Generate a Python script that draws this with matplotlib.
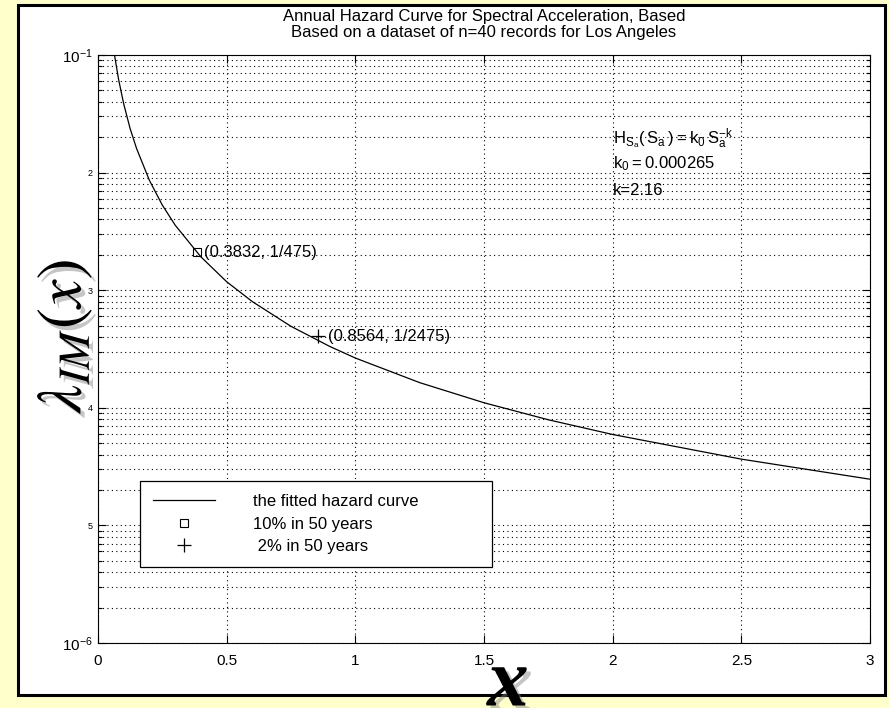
import numpy as np
import matplotlib.pyplot as plt
import matplotlib.patheffects as pe
from matplotlib.patches import Rectangle
from matplotlib.ticker import FixedLocator, FixedFormatter, LogLocator, NullFormatter

plt.rcParams['font.family'] = ['Liberation Sans', 'DejaVu Sans']

# points
sa = [0.064, 0.08, 0.1, 0.125, 0.15, 0.2, 0.25, 0.3, 0.4, 0.5, 0.6, 0.75,
      0.9, 1.0, 1.25, 1.5, 1.75, 2.0, 2.5, 3.0]
hazard = [0.1004, 0.0620, 0.0383, 0.0236, 0.0160, 0.00857, 0.00529, 0.00357,
          0.00192, 0.00118, 0.000799, 0.000493, 0.000333, 0.000265,
          0.0001637, 0.0001104, 7.91e-5, 5.93e-5, 3.66e-5, 2.47e-5]

pt10_x, pt10_y = 0.3832, 1 / 475
pt2_x, pt2_y = 0.8564, 1 / 2475

x_ticks = [0, 0.5, 1, 1.5, 2, 2.5, 3]
x_labels = ['0', '0.5', '1', '1.5', '2', '2.5', '3']
y_ticks = [1e-6, 1e-5, 1e-4, 1e-3, 1e-2, 1e-1]
y_labels = [r'$\mathregular{10^{-6}}$', '5', '4', '3', '2', r'$\mathregular{10^{-1}}$']

fs = 12

fig = plt.figure(figsize=(8.89, 7.08), dpi=100)
fig.patch.set_facecolor('#FFFFCC')

# white framed panel
fig.patches.append(Rectangle((18 / 889, 1 - 695 / 708), 867 / 889, 690 / 708,
                             transform=fig.transFigure, facecolor='white',
                             edgecolor='black', linewidth=2.2, zorder=-5))

ax = fig.add_axes([98 / 889, 1 - 643 / 708, 772 / 889, 588 / 708], zorder=2)
ax.set_yscale('log')
ax.set_xlim(0, 3)
ax.set_ylim(1e-6, 1e-1)

grid_style = dict(color='black', linestyle=(0, (1, 3)), linewidth=0.8)
ax.set_xticks(x_ticks)
ax.set_xticklabels(x_labels)
ax.yaxis.set_major_locator(FixedLocator(y_ticks))
ax.yaxis.set_major_formatter(FixedFormatter(y_labels))
ax.yaxis.set_minor_locator(LogLocator(base=10, subs=np.arange(2, 10)))
ax.yaxis.set_minor_formatter(NullFormatter())
ax.grid(True, which='major', axis='x', **grid_style)
ax.grid(True, which='both', axis='y', **grid_style)
ax.tick_params(which='both', direction='in', top=True, right=True, labelsize=11)
ax.tick_params(which='major', length=6, width=0.8)
ax.tick_params(which='minor', length=3, width=0.8)
ax.tick_params(axis='x', pad=8)
ax.tick_params(axis='y', pad=4)
for lbl, t in zip(ax.get_yticklabels(), y_ticks):
    if t not in (1e-6, 1e-1):
        lbl.set_fontsize(6.5)

line, = ax.plot(sa, hazard, color='black', linewidth=0.9)
sq, = ax.plot([pt10_x], [pt10_y], linestyle='none', marker='s', markersize=5.5,
              markerfacecolor='none', markeredgecolor='black', markeredgewidth=0.8)
pl, = ax.plot([pt2_x], [pt2_y], linestyle='none', marker='+', markersize=10,
              color='black', markeredgewidth=0.9)

ax.annotate('(0.3832, 1/475)', (pt10_x, pt10_y), xytext=(5, 0),
            textcoords='offset points', va='center', ha='left', fontsize=fs)
ax.annotate('(0.8564, 1/2475)', (pt2_x, pt2_y), xytext=(7, 0),
            textcoords='offset points', va='center', ha='left', fontsize=fs)

ax.text(2.0, 0.0195, r'$\mathregular{H_{S_a}(\,S_a\,) = k_0\,S_a^{-k}}$',
        fontsize=fs, va='center', ha='left')
ax.text(2.0, 0.0118, r'$\mathregular{k_0 = 0.000265}$', fontsize=fs,
        va='center', ha='left')
ax.text(2.0, 0.0071, 'k=2.16', fontsize=fs, va='center', ha='left')

leg = ax.legend([line, sq, pl],
                ['the fitted hazard curve', '10% in 50 years', ' 2% in 50 years'],
                loc='upper left', bbox_to_anchor=(0.054, 0.126, 0.457, 0.15),
                mode='expand', borderaxespad=0, fancybox=False, framealpha=1,
                edgecolor='black', fontsize=fs, handlelength=3.7,
                handletextpad=2.3, labelspacing=0.45, borderpad=0.8)
leg.get_frame().set_linewidth(0.9)

ax.set_title('Annual Hazard Curve for Spectral Acceleration, Based\n'
             'Based on a dataset of n=40 records for Los Angeles',
             fontsize=fs, pad=13, linespacing=1.1)

shadow = [pe.SimplePatchShadow(offset=(3, -3), shadow_rgbFace='gray', alpha=0.45),
          pe.Normal()]
fig.text(64 / 889, 1 - 336 / 708, r'$\lambda_{IM}(x)$', rotation=90,
         fontsize=46, math_fontfamily='stix', ha='center', va='center',
         path_effects=shadow, zorder=5)
fig.text(508 / 889, 1 - 686 / 708, 'x', fontsize=60, family='Liberation Serif',
         style='italic', weight='bold', ha='center', va='center',
         path_effects=shadow, zorder=5)

fig.savefig('out.png', dpi=100, facecolor=fig.get_facecolor())
